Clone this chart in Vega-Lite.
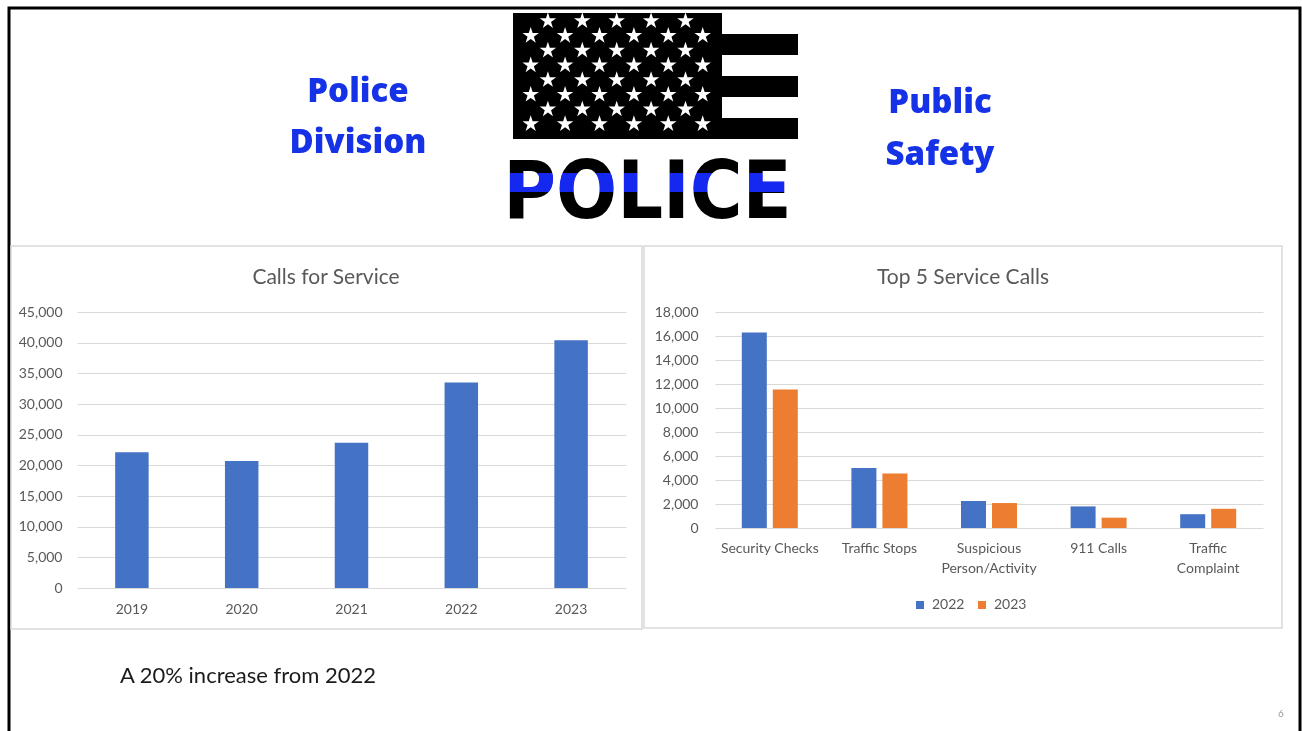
{
  "$schema": "https://vega.github.io/schema/vega-lite/v6.json",
  "width": 1291,
  "height": 723,
  "autosize": {"type": "none"},
  "padding": {"left": 9, "top": 8, "right": 2, "bottom": 0},
  "background": "white",
  "config": {
    "view": {"stroke": null},
    "font": "Lato",
    "axis": {
      "labelFont": "Lato",
      "labelColor": "#595959",
      "labelFontSize": 14,
      "domain": false,
      "ticks": false,
      "tickSize": 0,
      "title": null,
      "gridColor": "#d9d9d9",
      "gridWidth": 1
    }
  },
  "datasets": {
    "calls": [
      {"year": "2019", "calls": 22150},
      {"year": "2020", "calls": 20700},
      {"year": "2021", "calls": 23700},
      {"year": "2022", "calls": 33500},
      {"year": "2023", "calls": 40400}
    ],
    "top5": [
      {"category": "Security Checks", "year": "2022", "count": 16300},
      {"category": "Security Checks", "year": "2023", "count": 11550},
      {"category": "Traffic Stops", "year": "2022", "count": 5000},
      {"category": "Traffic Stops", "year": "2023", "count": 4550},
      {"category": "Suspicious Person/Activity", "year": "2022", "count": 2250},
      {"category": "Suspicious Person/Activity", "year": "2023", "count": 2080},
      {"category": "911 Calls", "year": "2022", "count": 1800},
      {"category": "911 Calls", "year": "2023", "count": 860},
      {"category": "Traffic Complaint", "year": "2022", "count": 1150},
      {"category": "Traffic Complaint", "year": "2023", "count": 1600}
    ],
    "stars": [
      {"row": 0, "col": 1}, {"row": 0, "col": 3}, {"row": 0, "col": 5}, {"row": 0, "col": 7}, {"row": 0, "col": 9},
      {"row": 1, "col": 0}, {"row": 1, "col": 2}, {"row": 1, "col": 4}, {"row": 1, "col": 6}, {"row": 1, "col": 8}, {"row": 1, "col": 10},
      {"row": 2, "col": 1}, {"row": 2, "col": 3}, {"row": 2, "col": 5}, {"row": 2, "col": 7}, {"row": 2, "col": 9},
      {"row": 3, "col": 0}, {"row": 3, "col": 2}, {"row": 3, "col": 4}, {"row": 3, "col": 6}, {"row": 3, "col": 8}, {"row": 3, "col": 10},
      {"row": 4, "col": 1}, {"row": 4, "col": 3}, {"row": 4, "col": 5}, {"row": 4, "col": 7}, {"row": 4, "col": 9},
      {"row": 5, "col": 0}, {"row": 5, "col": 2}, {"row": 5, "col": 4}, {"row": 5, "col": 6}, {"row": 5, "col": 8}, {"row": 5, "col": 10},
      {"row": 6, "col": 1}, {"row": 6, "col": 3}, {"row": 6, "col": 5}, {"row": 6, "col": 7}, {"row": 6, "col": 9},
      {"row": 7, "col": 0}, {"row": 7, "col": 2}, {"row": 7, "col": 4}, {"row": 7, "col": 6}, {"row": 7, "col": 8}, {"row": 7, "col": 10}
    ],
    "stripes": [{"band": 0}, {"band": 2}, {"band": 4}]
  },
  "layer": [
    {
      "data": {"values": [{}]},
      "layer": [
        {
          "mark": {"type": "rect", "filled": false, "color": "black", "strokeWidth": 3},
          "encoding": {
            "x": {"datum": 0, "type": "quantitative", "scale": {"domain": [0, 100]}, "axis": null},
            "x2": {"datum": 100},
            "y": {"datum": 0, "type": "quantitative", "scale": {"domain": [0, 100], "reverse": true}, "axis": null},
            "y2": {"datum": 102}
          }
        },
        {
          "mark": {"type": "rect", "filled": false, "color": "#d9d9d9", "strokeWidth": 1.5},
          "encoding": {
            "x": {"datum": 0.155, "type": "quantitative", "scale": {"domain": [0, 100]}, "axis": null},
            "x2": {"datum": 49.032},
            "y": {"datum": 32.918, "type": "quantitative", "scale": {"domain": [0, 100], "reverse": true}, "axis": null},
            "y2": {"datum": 85.892}
          }
        },
        {
          "mark": {"type": "rect", "filled": false, "color": "#d9d9d9", "strokeWidth": 1.5},
          "encoding": {
            "x": {"datum": 49.187, "type": "quantitative", "scale": {"domain": [0, 100]}, "axis": null},
            "x2": {"datum": 98.606},
            "y": {"datum": 32.918, "type": "quantitative", "scale": {"domain": [0, 100], "reverse": true}, "axis": null},
            "y2": {"datum": 85.754}
          }
        },
        {
          "mark": {"type": "rect", "color": "black"},
          "encoding": {
            "x": {"datum": 39.04, "type": "quantitative", "scale": {"domain": [0, 100]}, "axis": null},
            "x2": {"datum": 61.116},
            "y": {"datum": 0.692, "type": "quantitative", "scale": {"domain": [0, 100], "reverse": true}, "axis": null},
            "y2": {"datum": 18.119}
          }
        },
        {
          "mark": {"type": "text", "text": ["Police", "Division"], "font": "Open Sans", "fontWeight": 800, "fontSize": 33, "color": "#1632e6", "lineHeight": 51, "align": "center", "baseline": "middle"},
          "encoding": {
            "x": {"datum": 27.033, "type": "quantitative", "scale": {"domain": [0, 100]}, "axis": null},
            "y": {"datum": 11.62, "type": "quantitative", "scale": {"domain": [0, 100], "reverse": true}, "axis": null}
          }
        },
        {
          "mark": {"type": "text", "text": ["Public", "Safety"], "font": "Open Sans", "fontWeight": 800, "fontSize": 33, "color": "#1632e6", "lineHeight": 52, "align": "center", "baseline": "middle"},
          "encoding": {
            "x": {"datum": 72.115, "type": "quantitative", "scale": {"domain": [0, 100]}, "axis": null},
            "y": {"datum": 13.1, "type": "quantitative", "scale": {"domain": [0, 100], "reverse": true}, "axis": null}
          }
        },
        {
          "mark": {"type": "text", "text": "Calls for Service", "font": "Lato", "fontSize": 21, "color": "#595959", "align": "center", "baseline": "middle"},
          "encoding": {
            "x": {"datum": 24.555, "type": "quantitative", "scale": {"domain": [0, 100]}, "axis": null},
            "y": {"datum": 37.3, "type": "quantitative", "scale": {"domain": [0, 100], "reverse": true}, "axis": null}
          }
        },
        {
          "mark": {"type": "text", "text": "Top 5 Service Calls", "font": "Lato", "fontSize": 21, "color": "#595959", "align": "center", "baseline": "middle"},
          "encoding": {
            "x": {"datum": 73.896, "type": "quantitative", "scale": {"domain": [0, 100]}, "axis": null},
            "y": {"datum": 37.3, "type": "quantitative", "scale": {"domain": [0, 100], "reverse": true}, "axis": null}
          }
        },
        {
          "mark": {"type": "text", "text": "A 20% increase from 2022", "font": "Lato", "fontSize": 22, "color": "#1a1a1a", "align": "left", "baseline": "middle"},
          "encoding": {
            "x": {"datum": 8.598, "type": "quantitative", "scale": {"domain": [0, 100]}, "axis": null},
            "y": {"datum": 92.4, "type": "quantitative", "scale": {"domain": [0, 100], "reverse": true}, "axis": null}
          }
        },
        {
          "mark": {"type": "text", "text": "6", "font": "Lato", "fontSize": 10, "color": "#9a9a9a", "align": "center", "baseline": "middle"},
          "encoding": {
            "x": {"datum": 98.528, "type": "quantitative", "scale": {"domain": [0, 100]}, "axis": null},
            "y": {"datum": 97.649, "type": "quantitative", "scale": {"domain": [0, 100], "reverse": true}, "axis": null}
          }
        },
        {
          "mark": {"type": "text", "text": "POLICE", "font": "Liberation Sans Narrow, DejaVu Sans Condensed, Liberation Sans", "fontWeight": "bold", "fontSize": 80, "color": "black", "align": "center", "baseline": "alphabetic"},
          "encoding": {
            "x": {"datum": 49.458, "type": "quantitative", "scale": {"domain": [0, 100]}, "axis": null},
            "y": {"datum": 29.046, "type": "quantitative", "scale": {"domain": [0, 100], "reverse": true}, "axis": null}
          }
        },
        {
          "mark": {"type": "rect", "color": "#1428f0", "blend": "lighten"},
          "encoding": {
            "x": {"datum": 38.5, "type": "quantitative", "scale": {"domain": [0, 100]}, "axis": null},
            "x2": {"datum": 61},
            "y": {"datum": 22.822, "type": "quantitative", "scale": {"domain": [0, 100], "reverse": true}, "axis": null},
            "y2": {"datum": 25.45}
          }
        }
      ]
    },
    {
      "data": {"name": "stripes"},
      "mark": {"type": "rect", "color": "white"},
      "encoding": {
        "x": {"datum": 55.229, "type": "quantitative", "scale": {"domain": [0, 100]}, "axis": null},
        "x2": {"datum": 61.5},
        "y": {"field": "band", "type": "ordinal", "scale": {"domain": [0, 1, 2, 3, 4, 5], "range": [5, 131], "paddingInner": 0, "paddingOuter": 0}, "axis": null}
      }
    },
    {
      "data": {"name": "stars"},
      "mark": {"type": "point", "filled": true, "color": "white", "opacity": 1, "size": 300, "shape": "M0,-1L0.2245,-0.309L0.951,-0.309L0.363,0.118L0.588,0.809L0,0.382L-0.588,0.809L-0.363,0.118L-0.951,-0.309L-0.2245,-0.309Z"},
      "encoding": {
        "x": {"field": "col", "type": "quantitative", "scale": {"domain": [0, 10], "range": [521.7, 693.7]}, "axis": null},
        "y": {"field": "row", "type": "quantitative", "scale": {"domain": [0, 7], "range": [13, 116]}, "axis": null}
      }
    },
    {
      "data": {"name": "calls"},
      "mark": {"type": "bar", "color": "#4472C4"},
      "encoding": {
        "x": {
          "field": "year", "type": "ordinal",
          "scale": {"range": [68, 617], "paddingInner": 0.695, "paddingOuter": 0.3475},
          "axis": {"orient": "bottom", "offset": -143, "labelPadding": 14, "labelAngle": 0, "grid": false}
        },
        "y": {
          "field": "calls", "type": "quantitative",
          "scale": {"domain": [0, 45000], "range": [580, 304], "nice": false},
          "axis": {"orient": "left", "offset": -68, "values": [0, 5000, 10000, 15000, 20000, 25000, 30000, 35000, 40000, 45000], "labelExpr": "format(datum.value, ',.0f')", "labelPadding": 15, "grid": true}
        }
      }
    },
    {
      "data": {"name": "top5"},
      "mark": {"type": "bar"},
      "encoding": {
        "x": {
          "field": "category", "type": "nominal",
          "scale": {"domain": ["Security Checks", "Traffic Stops", "Suspicious Person/Activity", "911 Calls", "Traffic Complaint"], "range": [706, 1254], "paddingInner": 0.489, "paddingOuter": 0.2445},
          "axis": {"orient": "bottom", "offset": -203, "labelPadding": 13, "labelAngle": 0, "grid": false, "labelLineHeight": 20, "labelExpr": "datum.label == 'Suspicious Person/Activity' ? ['Suspicious', 'Person/Activity'] : datum.label == 'Traffic Complaint' ? ['Traffic', 'Complaint'] : datum.label"}
        },
        "xOffset": {"field": "year", "type": "nominal", "scale": {"paddingInner": 0.194, "paddingOuter": 0}},
        "y": {
          "field": "count", "type": "quantitative",
          "scale": {"domain": [0, 18000], "range": [520, 304], "nice": false},
          "axis": {"orient": "left", "offset": -706, "values": [0, 2000, 4000, 6000, 8000, 10000, 12000, 14000, 16000, 18000], "labelExpr": "format(datum.value, ',.0f')", "labelPadding": 17, "grid": true}
        },
        "color": {
          "field": "year", "type": "nominal",
          "scale": {"domain": ["2022", "2023"], "range": ["#4472C4", "#ED7D31"]},
          "legend": {"orient": "none", "legendX": 904, "legendY": 590, "direction": "horizontal", "title": null, "symbolType": "square", "symbolSize": 64, "symbolStrokeWidth": 0, "labelFont": "Lato", "labelFontSize": 14, "labelColor": "#595959", "labelOffset": 5, "columnPadding": 10, "padding": 0}
        }
      }
    }
  ],
  "resolve": {
    "scale": {"x": "independent", "y": "independent", "color": "independent", "xOffset": "independent"},
    "axis": {"x": "independent", "y": "independent"}
  }
}
